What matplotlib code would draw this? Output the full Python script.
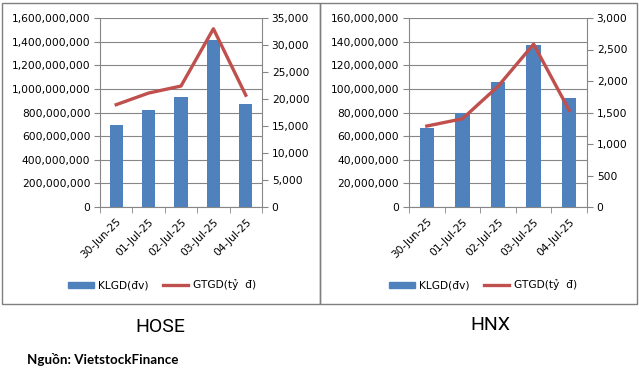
import matplotlib.pyplot as plt
from matplotlib.lines import Line2D
from matplotlib.patches import Patch
from matplotlib.ticker import FuncFormatter, MultipleLocator
import numpy as np

# data
dates = ["30-Jun-25", "01-Jul-25", "02-Jul-25", "03-Jul-25", "04-Jul-25"]
hose_vol = [690e6, 820e6, 935e6, 1410e6, 875e6]
hose_val = [18950, 21100, 22400, 33000, 20700]
hnx_vol = [67e6, 80e6, 105.5e6, 137.5e6, 92e6]
hnx_val = [1285, 1400, 1915, 2585, 1535]

bar_color = "#4F81BD"
line_color = "#C0504D"
grid_color = "#868686"

W, H = 639, 373
fig = plt.figure(figsize=(W / 100, H / 100), dpi=100)
fig.patch.set_facecolor("white")

fmt = FuncFormatter(lambda v, p: f"{v:,.0f}")


def px(x0, y0, x1, y1):
    # pixel box -> figure fraction rect
    return [x0 / W, 1 - y1 / H, (x1 - x0) / W, (y1 - y0) / H]


def panel(rect, vol, val, vmax, vstep, smax, sstep, legend_x):
    ax = fig.add_axes(rect)
    x = np.arange(len(dates))
    ax.bar(x, vol, width=0.41, color=bar_color, zorder=3)
    ax.set_xlim(-0.5, len(dates) - 0.5)
    ax.set_ylim(0, vmax)
    ax.yaxis.set_major_locator(MultipleLocator(vstep))
    ax.yaxis.set_major_formatter(fmt)
    ax.grid(axis="y", color=grid_color, lw=0.8, zorder=0)
    ax.set_axisbelow(True)
    for s in ["top", "right"]:
        ax.spines[s].set_visible(False)
    for s in ["left", "bottom"]:
        ax.spines[s].set_color(grid_color)
    ax.set_xticks(x)
    ax.set_xticklabels(dates, rotation=45, ha="right", rotation_mode="anchor",
                       fontsize=7.7)
    ax.set_xticks(np.arange(-0.5, len(dates), 1), minor=True)
    ax.tick_params(axis="x", which="major", length=0, pad=7)
    ax.tick_params(axis="x", which="minor", length=4, color=grid_color)
    ax.tick_params(axis="y", length=4, color=grid_color, labelsize=7.7, pad=3)

    ax2 = ax.twinx()
    ax2.plot(x, val, color=line_color, lw=2.4, zorder=4)
    ax2.set_ylim(0, smax)
    ax2.yaxis.set_major_locator(MultipleLocator(sstep))
    ax2.yaxis.set_major_formatter(fmt)
    for s in ["top", "left", "bottom"]:
        ax2.spines[s].set_visible(False)
    ax2.spines["right"].set_color(grid_color)
    ax2.tick_params(axis="y", length=4, color=grid_color, labelsize=7.7, pad=3)

    handles = [Patch(color=bar_color, label="KLGD(đv)"),
               Line2D([], [], color=line_color, lw=2.4, label="GTGD(tỷ  đ)")]
    fig.legend(handles=handles, loc="center", bbox_to_anchor=(legend_x / W, 1 - 285 / H),
               ncol=2, frameon=False, fontsize=7.7, handlelength=2.4,
               handleheight=0.5, handletextpad=0.4, columnspacing=1.3)


panel(px(100, 18, 262, 207), hose_vol, hose_val, 1.6e9, 2e8, 35000, 5000, 162)
panel(px(409, 18, 587, 207), hnx_vol, hnx_val, 1.6e8, 2e7, 3000, 500, 483)

# panel frames
for x0, x1 in [(2, 320), (320, 637)]:
    fig.add_artist(plt.Rectangle((x0 / W, 1 - 304 / H), (x1 - x0) / W, 301 / H,
                                 transform=fig.transFigure, fill=False,
                                 edgecolor="#7F7F7F", lw=1.0))

fig.text(160 / W, 1 - 327 / H, "HOSE", ha="center", va="center", fontsize=14,
         family="Roboto")
fig.text(490 / W, 1 - 325 / H, "HNX", ha="center", va="center", fontsize=14,
         family="Roboto")
fig.text(27 / W, 1 - 360 / H, "Nguồn: VietstockFinance", ha="left", va="center",
         fontsize=9.6, fontweight="bold", family=["Lato", "DejaVu Sans"])

fig.savefig("out.png", dpi=100)
